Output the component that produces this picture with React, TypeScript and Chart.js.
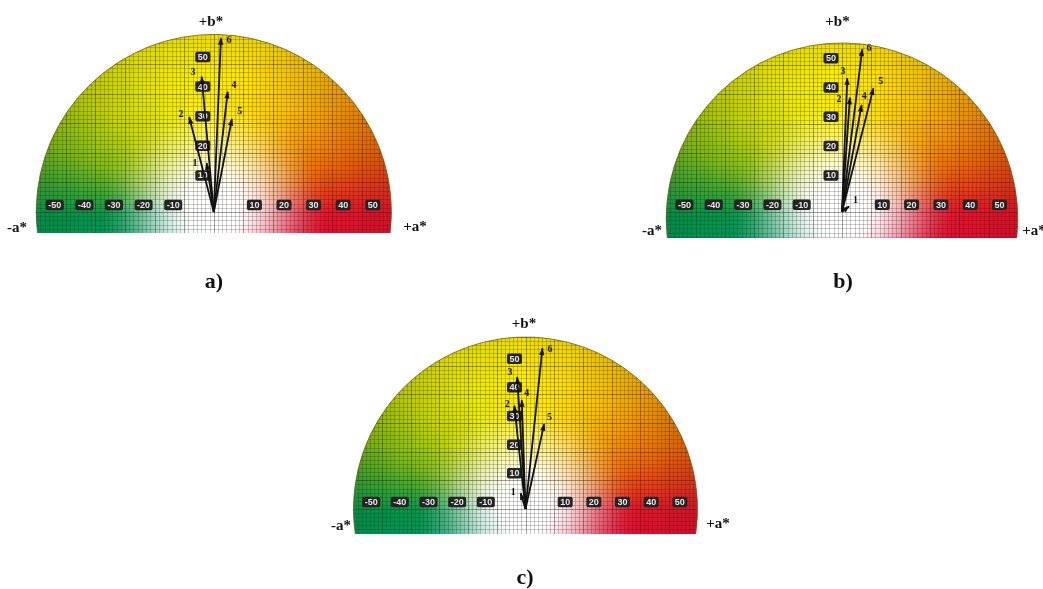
import React, { useEffect, useRef } from "react";
import { Chart, registerables } from "chart.js";

Chart.register(...registerables);

const W = 1043;
const H = 589;

// ---------------- data ----------------
const arrowNames = ["1", "2", "3", "4", "5", "6"];
const aStarA = [-2.4, -8.3, -4.1, 4.7, 6.1, 2.4];
const bStarA = [16.5, 32.0, 45.7, 40.6, 31.4, 58.7];
const aStarB = [2.4, 2.7, 1.8, 6.7, 10.7, 6.9];
const bStarB = [1.8, 38.9, 45.5, 36.4, 42.1, 55.4];
const aStarC = [-1.7, -3.9, -2.9, -1.3, 6.5, 5.9];
const bStarC = [5.5, 36.0, 46.0, 37.9, 29.6, 56.0];
const aTicks = [-50, -40, -30, -20, -10, 10, 20, 30, 40, 50];
const bTicks = [10, 20, 30, 40, 50];
const panelCaptions = ["a)", "b)", "c)"];
const titleBPos = "+b*";
const titleANeg = "-a*";
const titleAPos = "+a*";
const gamutRadius = 60;

// ---------------- layout / style ----------------
type Layout = {
  ox: number; oy: number; k: number; shapeDy: number; cut: number;
  bTitle: [number, number]; aNeg: [number, number]; aPos: [number, number];
  caption: [number, number]; labelOff: [number, number][];
};

const layouts: Layout[] = [
  {
    ox: 213.8, oy: 212, k: 2.96, shapeDy: 0, cut: 7.1,
    bTitle: [211, 22], aNeg: [17, 228], aPos: [415, 227], caption: [214, 282],
    labelOff: [[-11.7, 0.7], [-8.3, -3.3], [-8.7, -4.7], [6.3, -6.7], [8, -7.3], [8, 2.4]],
  },
  {
    ox: 842, oy: 211.7, k: 2.93, shapeDy: -2.4, cut: 6.6,
    bTitle: [837.5, 22], aNeg: [652, 231], aPos: [1034, 231], caption: [843, 282],
    labelOff: [[6.5, -6], [-11, 1.3], [-4.3, -7.3], [2.6, -9], [7.4, -7.3], [6.7, -1.3]],
  },
  {
    ox: 525.5, oy: 509, k: 2.867, shapeDy: 0, cut: 8.7,
    bTitle: [524, 324], aNeg: [341, 526], aPos: [718, 524], caption: [525, 578],
    labelOff: [[-7.5, -1], [-7, -1], [-7.3, -4.2], [5, -6.5], [5.3, -7], [7.7, 0.6]],
  },
];

const hueStops: [number, number, number, number][] = [
  [-90, 225, 90, 140],
  [-30, 225, 0, 50],
  [0, 228, 20, 40],
  [10, 232, 58, 22],
  [22, 238, 105, 0],
  [38, 245, 150, 0],
  [55, 250, 192, 0],
  [75, 255, 225, 0],
  [92, 255, 238, 0],
  [115, 236, 233, 0],
  [138, 195, 212, 0],
  [158, 125, 187, 22],
  [170, 60, 166, 48],
  [182, 0, 150, 72],
  [215, 0, 150, 110],
  [270, 0, 140, 160],
];

function colorAt(a: number, b: number): number[] {
  const r = Math.hypot(a, b);
  let th = (Math.atan2(b, a) * 180) / Math.PI;
  if (th < -90) th += 360;
  const last = hueStops[hueStops.length - 1];
  let rgb = [last[1], last[2], last[3]];
  for (let i = 0; i < hueStops.length - 1; i++) {
    const s0 = hueStops[i];
    const s1 = hueStops[i + 1];
    if (th >= s0[0] && th <= s1[0]) {
      const f = (th - s0[0]) / (s1[0] - s0[0]);
      rgb = [1, 2, 3].map((j) => s0[j] + (s1[j] - s0[j]) * f);
      break;
    }
  }
  const x = Math.min(1, Math.max(0, (r - 6) / 34));
  const t = x * x * (3 - 2 * x);
  const dark = r > 45 ? 1 - 0.07 * Math.min(1, (r - 45) / 15) : 1;
  return rgb.map((v) => (255 + (v - 255) * t) * dark);
}

function makePlugin(L: Layout, caption: string) {
  return {
    id: "lab-" + caption,
    beforeDatasetsDraw(chart: any) {
      const ctx: CanvasRenderingContext2D = chart.ctx;
      const xs = chart.scales.x;
      const ys = chart.scales.y;
      const cx = xs.getPixelForValue(0);
      const cy = ys.getPixelForValue(L.shapeDy);
      const rPx = xs.getPixelForValue(gamutRadius) - cx;
      const bottomPx = ys.getPixelForValue(L.shapeDy - L.cut);
      const x0 = Math.floor(cx - rPx - 2);
      const y0 = Math.floor(cy - rPx - 2);
      const w = Math.ceil(2 * rPx + 4);
      const h = Math.ceil(bottomPx - y0);
      const off = document.createElement("canvas");
      off.width = w;
      off.height = h;
      const octx = off.getContext("2d")!;
      const img = octx.createImageData(w, h);
      for (let j = 0; j < h; j++) {
        const py = y0 + j + 0.5;
        const b = ys.getValueForPixel(py);
        for (let i = 0; i < w; i++) {
          const px = x0 + i + 0.5;
          const a = xs.getValueForPixel(px);
          const dPx = Math.hypot(px - cx, py - cy) - rPx;
          let alpha = Math.min(1, Math.max(0, 0.5 - dPx));
          if (py > bottomPx) alpha = 0;
          if (alpha <= 0) continue;
          const c = colorAt(a, b);
          const idx = (j * w + i) * 4;
          img.data[idx] = c[0];
          img.data[idx + 1] = c[1];
          img.data[idx + 2] = c[2];
          img.data[idx + 3] = alpha * 255;
        }
      }
      octx.putImageData(img, 0, 0);
      ctx.save();
      ctx.drawImage(off, x0, y0);

      // grid clipped to shape
      ctx.beginPath();
      ctx.arc(cx, cy, rPx, 0, Math.PI * 2);
      ctx.clip();
      ctx.beginPath();
      ctx.rect(x0, y0, w, bottomPx - y0);
      ctx.clip();
      const sub = 7;
      for (let s = -70; s <= 70; s++) {
        const v = (s * 10) / sub;
        const major = s % sub === 0;
        ctx.strokeStyle = major ? "rgba(30,30,30,0.42)" : "rgba(30,30,30,0.22)";
        ctx.lineWidth = 1;
        const px = Math.round(xs.getPixelForValue(v)) + 0.5;
        ctx.beginPath();
        ctx.moveTo(px, y0);
        ctx.lineTo(px, bottomPx);
        ctx.stroke();
        const py = Math.round(ys.getPixelForValue(v)) + 0.5;
        ctx.beginPath();
        ctx.moveTo(x0, py);
        ctx.lineTo(x0 + w, py);
        ctx.stroke();
      }
      ctx.restore();

      // rim outline
      ctx.save();
      const phi = Math.asin(Math.min(1, (bottomPx - cy) / rPx));
      ctx.beginPath();
      ctx.arc(cx, cy, rPx, phi, Math.PI - phi, true);
      ctx.strokeStyle = "rgba(110,90,30,0.75)";
      ctx.lineWidth = 1;
      ctx.stroke();
      ctx.restore();

      // scale label boxes
      ctx.save();
      ctx.font = "bold 9px 'Liberation Sans', Arial, sans-serif";
      ctx.textAlign = "center";
      ctx.textBaseline = "middle";
      const drawBox = (text: string, x: number, y: number) => {
        const tw = ctx.measureText(text).width;
        const bw = tw + 5;
        const bh = 10.5;
        ctx.fillStyle = "#242424";
        ctx.beginPath();
        (ctx as any).roundRect(x - bw / 2, y - bh / 2, bw, bh, 2);
        ctx.fill();
        ctx.fillStyle = "#e6e6e6";
        ctx.fillText(text, x, y + 0.5);
      };
      const yRow = ys.getPixelForValue(0) - 7;
      aTicks.forEach((n) => {
        drawBox(String(n), xs.getPixelForValue(n) + Math.sign(n) * 11, yRow);
      });
      const xCol = xs.getPixelForValue(0) - 11;
      bTicks.forEach((n) => {
        drawBox(String(n), xCol, ys.getPixelForValue(n) - 7);
      });
      ctx.restore();
    },
    afterDatasetsDraw(chart: any) {
      const ctx: CanvasRenderingContext2D = chart.ctx;
      ctx.save();
      chart.data.datasets.forEach((_: any, i: number) => {
        const meta = chart.getDatasetMeta(i);
        const p0 = meta.data[0];
        const p1 = meta.data[1];
        const ang = Math.atan2(p1.y - p0.y, p1.x - p0.x);
        const len = 6.5;
        const hw = 2.6;
        ctx.fillStyle = "#111";
        ctx.beginPath();
        ctx.moveTo(p1.x + Math.cos(ang) * 1, p1.y + Math.sin(ang) * 1);
        ctx.lineTo(p1.x - Math.cos(ang) * len + Math.sin(ang) * hw, p1.y - Math.sin(ang) * len - Math.cos(ang) * hw);
        ctx.lineTo(p1.x - Math.cos(ang) * len - Math.sin(ang) * hw, p1.y - Math.sin(ang) * len + Math.cos(ang) * hw);
        ctx.closePath();
        ctx.fill();
        const off = L.labelOff[i];
        ctx.font = "bold 10px 'Liberation Serif', 'Times New Roman', serif";
        ctx.textAlign = "center";
        ctx.textBaseline = "middle";
        ctx.fillText(arrowNames[i], p1.x + off[0], p1.y + off[1]);
      });
      ctx.restore();
    },
    afterDraw(chart: any) {
      const ctx: CanvasRenderingContext2D = chart.ctx;
      ctx.save();
      ctx.fillStyle = "#111";
      ctx.textAlign = "center";
      ctx.textBaseline = "middle";
      ctx.font = "bold 15px 'Liberation Serif', 'Times New Roman', serif";
      ctx.fillText(titleBPos, L.bTitle[0], L.bTitle[1]);
      ctx.fillText(titleANeg, L.aNeg[0], L.aNeg[1]);
      ctx.fillText(titleAPos, L.aPos[0], L.aPos[1]);
      ctx.font = "bold 22px 'Liberation Serif', 'Times New Roman', serif";
      ctx.fillText(caption, L.caption[0], L.caption[1]);
      ctx.restore();
    },
  };
}

function makeConfig(L: Layout, aVals: number[], bVals: number[], caption: string): any {
  const xmin = -66, xmax = 66, ymin = -20, ymax = 66;
  return {
    type: "line",
    data: {
      datasets: aVals.map((a, i) => ({
        label: arrowNames[i],
        data: [
          { x: 0, y: 0 },
          { x: a, y: bVals[i] },
        ],
        borderColor: "#111",
        borderWidth: 1.8,
        pointRadius: 0,
        fill: false,
        tension: 0,
      })),
    },
    options: {
      animation: false,
      responsive: false,
      devicePixelRatio: 1,
      events: [],
      layout: {
        padding: {
          left: L.ox + xmin * L.k,
          right: W - (L.ox + xmax * L.k),
          top: L.oy - ymax * L.k,
          bottom: H - (L.oy - ymin * L.k),
        },
      },
      scales: {
        x: { type: "linear", min: xmin, max: xmax, display: false },
        y: { type: "linear", min: ymin, max: ymax, display: false },
      },
      plugins: {
        legend: { display: false },
        tooltip: { enabled: false },
        title: { display: false },
      },
    },
    plugins: [makePlugin(L, caption)],
  };
}

function Panel(props: { idx: number; aVals: number[]; bVals: number[] }) {
  const ref = useRef<HTMLCanvasElement>(null);
  useEffect(() => {
    const chart = new Chart(
      ref.current as HTMLCanvasElement,
      makeConfig(layouts[props.idx], props.aVals, props.bVals, panelCaptions[props.idx])
    );
    return () => chart.destroy();
  }, []);
  return (
    <canvas
      ref={ref}
      width={W}
      height={H}
      style={{ position: "absolute", left: 0, top: 0, width: W, height: H }}
    />
  );
}

export default function App() {
  return (
    <div
      style={{
        position: "fixed",
        left: 0,
        top: 0,
        width: W,
        height: H,
        background: "#ffffff",
        overflow: "hidden",
      }}
    >
      <Panel idx={0} aVals={aStarA} bVals={bStarA} />
      <Panel idx={1} aVals={aStarB} bVals={bStarB} />
      <Panel idx={2} aVals={aStarC} bVals={bStarC} />
    </div>
  );
}
